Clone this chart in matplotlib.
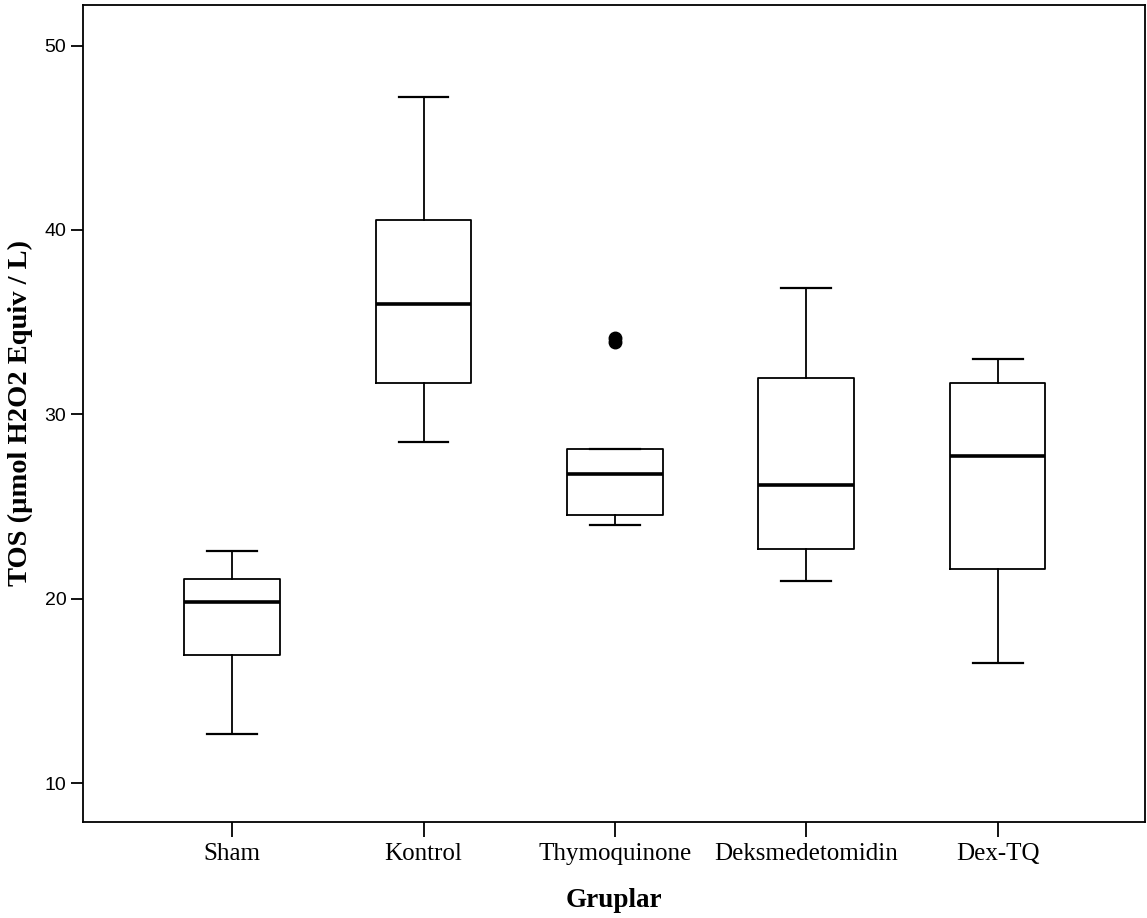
import matplotlib.pyplot as plt

groups = ['Sham', 'Kontrol', 'Thymoquinone', 'Deksmedetomidin', 'Dex-TQ']
whislo = [12.65, 28.48, 24.0, 20.98, 16.52]
q1 = [16.98, 31.7, 24.57, 22.72, 21.63]
med = [19.85, 35.98, 26.75, 26.17, 27.72]
q3 = [21.1, 40.55, 28.1, 31.96, 31.68]
whishi = [22.6, 47.2, 28.1, 36.88, 32.98]
fliers = [[], [], [33.95, 34.15], [], []]

plt.rcParams['font.family'] = ['Liberation Serif', 'DejaVu Serif']

fig = plt.figure(figsize=(11.47, 9.18), dpi=100)
ax = fig.add_axes([83 / 1147, 1 - 822 / 918, (1145 - 83) / 1147, (822 - 5) / 918])

stats = []
for i, g in enumerate(groups):
    stats.append(dict(label=g, whislo=whislo[i], q1=q1[i], med=med[i],
                      q3=q3[i], whishi=whishi[i], fliers=fliers[i]))

ax.bxp(stats, positions=range(len(groups)), widths=0.5, showfliers=True,
       boxprops=dict(color='black', linewidth=1.3),
       medianprops=dict(color='black', linewidth=2.6, solid_capstyle='butt'),
       whiskerprops=dict(color='black', linewidth=1.3),
       capprops=dict(color='black', linewidth=1.6),
       flierprops=dict(marker='o', markerfacecolor='black', markeredgecolor='black',
                       markersize=9, linestyle='none'),
       capwidths=0.26)

ax.set_xlim(-0.78, 4.77)
ax.set_ylim(7.9, 52.2)
ax.set_yticks([10, 20, 30, 40, 50])
ax.tick_params(axis='y', length=9, width=1.3, labelsize=14, pad=3)
ax.tick_params(axis='x', length=11, width=1.3, labelsize=18, pad=4)
for lab in ax.get_yticklabels():
    lab.set_family(['Liberation Sans', 'DejaVu Sans'])
for sp in ax.spines.values():
    sp.set_linewidth(1.3)

ax.set_xlabel('Gruplar', fontsize=19.5, fontweight='bold', labelpad=17)
ax.set_ylabel('TOS (µmol H2O2 Equiv / L)', fontsize=20.5, fontweight='bold', labelpad=8)

fig.savefig('out.png', dpi=100)
